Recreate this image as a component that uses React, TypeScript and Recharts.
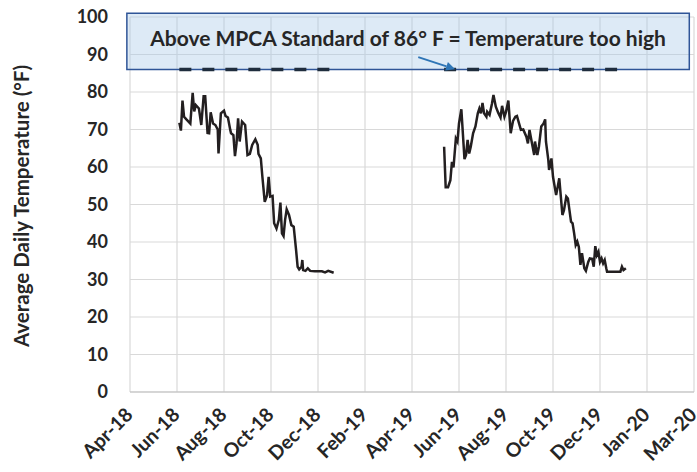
import React from "react";
import {
  LineChart,
  Line,
  XAxis,
  YAxis,
  CartesianGrid,
  ReferenceArea,
  ReferenceLine,
} from "recharts";

// x values are days counted from 10 Apr 2018 (axis start)
const xTicks = [0, 60, 120, 180, 240, 300, 360, 420, 480, 540, 600, 660, 720];
const xTickLabels = [
  "Apr-18", "Jun-18", "Aug-18", "Oct-18", "Dec-18", "Feb-19", "Apr-19",
  "Jun-19", "Aug-19", "Oct-19", "Dec-19", "Jan-20", "Mar-20",
];
const yTicks = [0, 10, 20, 30, 40, 50, 60, 70, 80, 90, 100];

const days2018 = [
  63, 65, 67, 69, 72, 77, 80, 82, 84, 88, 91, 94, 96, 99, 101, 103, 106, 109,
  112, 113, 116, 120, 122, 125, 128, 129, 132, 134, 136, 138, 140, 143, 147,
  150, 153, 156, 160, 163, 164, 167, 169, 172, 175, 177, 179, 182, 184, 187,
  190, 192, 194, 196, 198, 200, 203, 206, 209, 212, 214, 216, 219, 220, 221,
  224, 227, 230, 236, 245, 249, 253, 260,
];
const temps2018 = [
  71.8, 69.7, 77.7, 73.4, 72.7, 71.6, 79.8, 74.8, 76.5, 75.6, 71.2, 78.9, 78.9,
  69.1, 69.0, 74.6, 71.6, 71.2, 70.0, 63.6, 74.3, 75.0, 73.6, 73.2, 69.9, 69.0,
  68.5, 62.9, 66.3, 73.0, 66.8, 72.1, 71.2, 63.2, 63.5, 65.9, 67.4, 65.9, 63.5,
  62.3, 57.4, 50.7, 52.5, 57.4, 52.1, 52.3, 45.0, 43.6, 45.9, 50.5, 42.3, 41.6,
  45.9, 48.7, 47.2, 44.5, 44.1, 37.9, 33.4, 32.7, 33.4, 35.2, 32.5, 32.3, 33.0,
  32.3, 32.2, 32.2, 31.9, 32.3, 31.8,
];

const days2019 = [
  401, 403, 406, 409, 411, 413, 416, 418, 420, 423, 427, 429, 431, 433, 435,
  438, 441, 444, 446, 448, 450, 452, 455, 456, 459, 462, 464, 467, 470, 473,
  475, 478, 480, 483, 486, 489, 492, 494, 496, 499, 502, 506, 508, 510, 512,
  516, 517, 520, 522, 525, 528, 530, 531, 534, 535, 538, 540, 544, 546, 548,
  550, 552, 554, 557, 559, 561, 563, 565, 567, 569, 571, 573, 575, 577, 580,
  582, 585, 587, 590, 592, 594, 596, 598, 600, 602, 604, 606, 608, 609, 615,
  626, 628, 630, 633,
];
const temps2019 = [
  65.4, 54.6, 54.6, 56.5, 61.4, 59.9, 67.6, 66.8, 71.6, 75.4, 62.1, 63.2, 67.2,
  63.6, 65.4, 69.0, 70.8, 74.3, 75.6, 74.3, 77.1, 74.3, 73.4, 74.7, 73.9, 76.8,
  79.2, 76.1, 74.5, 73.2, 76.3, 73.4, 74.7, 77.7, 69.0, 72.3, 73.4, 73.6, 72.1,
  69.9, 70.0, 68.1, 66.3, 69.9, 67.6, 63.2, 66.8, 63.2, 65.4, 70.8, 71.6, 72.7,
  66.8, 61.9, 59.2, 62.3, 57.4, 52.5, 54.7, 57.0, 52.1, 47.2, 48.5, 52.1, 51.6,
  48.5, 45.4, 45.0, 42.3, 39.2, 40.1, 38.7, 33.9, 37.0, 33.0, 32.3, 34.7, 35.6,
  35.5, 33.4, 38.9, 36.5, 37.4, 34.7, 35.6, 34.3, 35.2, 33.0, 32.1, 32.1, 32.1,
  33.4, 32.5, 33.0,
];

const STANDARD = 86;
const standardDays2018 = [63, 260];
const standardDays2019 = [401, 633];

const toRows = (days: number[], temps: number[]) =>
  days.map((d, i) => ({ day: d, temp: temps[i] }));

const series2018 = toRows(days2018, temps2018);
const series2019 = toRows(days2019, temps2019);
const std2018 = standardDays2018.map((d) => ({ day: d, temp: STANDARD }));
const std2019 = standardDays2019.map((d) => ({ day: d, temp: STANDARD }));

const FONT = "Lato, 'Open Sans', sans-serif";
const TEXT = "#262626";

const XTick = (props: any) => {
  const { x, y, payload } = props;
  const i = xTicks.indexOf(payload.value);
  return (
    <g transform={`translate(${x + 4},${y + 16}) rotate(-45)`}>
      <text
        textAnchor="end"
        fontFamily={FONT}
        fontWeight="bold"
        fontSize={19.5}
        fill={TEXT}
      >
        {xTickLabels[i]}
      </text>
    </g>
  );
};

const Arrow = (p: any) => {
  const { x1, y1, x2, y2 } = p;
  const ang = Math.atan2(y2 - y1, x2 - x1);
  const len = 9;
  const w = 4.5;
  const bx = x2 - len * Math.cos(ang);
  const by = y2 - len * Math.sin(ang);
  const px = -Math.sin(ang) * w;
  const py = Math.cos(ang) * w;
  return (
    <g>
      <line x1={x1} y1={y1} x2={bx} y2={by} stroke="#2e75b6" strokeWidth={2} />
      <polygon
        points={`${x2},${y2} ${bx + px},${by + py} ${bx - px},${by - py}`}
        fill="#2e75b6"
      />
    </g>
  );
};

export default function App() {
  return (
    <div style={{ position: "absolute", left: 0, top: 0, background: "#fff" }}>
      <LineChart
        width={697}
        height={472}
        margin={{ top: 17, right: 3, bottom: 50, left: 0 }}
      >
        <CartesianGrid stroke="#d9d9d9" strokeWidth={1.2} />
        <XAxis
          type="number"
          dataKey="day"
          domain={[0, 720]}
          ticks={xTicks}
          interval={0}
          tick={<XTick />}
          tickLine={false}
          axisLine={{ stroke: "#bfbfbf" }}
          allowDataOverflow
        />
        <YAxis
          width={130}
          domain={[0, 100]}
          ticks={yTicks}
          interval={0}
          tickSize={0}
          tickMargin={22}
          tickLine={false}
          axisLine={false}
          tick={{
            fontFamily: FONT,
            fontWeight: "bold",
            fontSize: 18,
            fill: TEXT,
          }}
          label={{
            content: () => (
              <text
                transform="translate(29,206) rotate(-90)"
                textAnchor="middle"
                fontFamily={FONT}
                fontWeight="bold"
                fontSize={20.5}
                fill={TEXT}
              >
                Average Daily Temperature (°F)
              </text>
            ),
          }}
        />
        <ReferenceArea
          x1={-4}
          x2={714}
          y1={STANDARD}
          y2={101}
          ifOverflow="visible"
          fill="#a9cbe8"
          fillOpacity={0.4}
          stroke="#2f5597"
          strokeWidth={1.5}
          label={{
            value: "Above MPCA Standard of 86° F = Temperature too high",
            position: "center",
            dy: -3,
            fontFamily: FONT,
            fontWeight: "bold",
            fontSize: 21,
            fill: TEXT,
          }}
        />
        <Line
          data={std2018}
          dataKey="temp"
          stroke="#1f2d3d"
          strokeWidth={3.5}
          strokeDasharray="12 11"
          dot={false}
          isAnimationActive={false}
        />
        <Line
          data={std2019}
          dataKey="temp"
          stroke="#1f2d3d"
          strokeWidth={3.5}
          strokeDasharray="12 11"
          dot={false}
          isAnimationActive={false}
        />
        <ReferenceLine
          segment={[
            { x: 368, y: 89.3 },
            { x: 415, y: 86.1 },
          ]}
          shape={<Arrow />}
        />
        <Line
          data={series2018}
          dataKey="temp"
          stroke="#231f20"
          strokeWidth={2.5}
          dot={false}
          isAnimationActive={false}
        />
        <Line
          data={series2019}
          dataKey="temp"
          stroke="#231f20"
          strokeWidth={2.5}
          dot={false}
          isAnimationActive={false}
        />
      </LineChart>
    </div>
  );
}
